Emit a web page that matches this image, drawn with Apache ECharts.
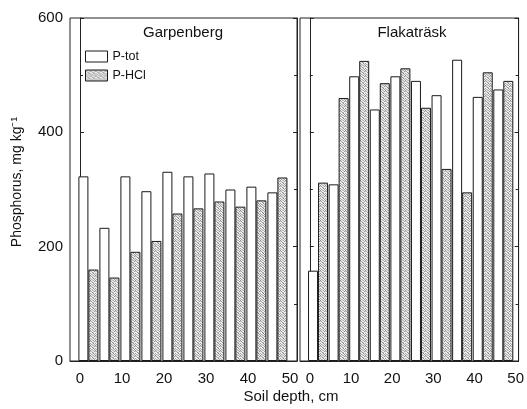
<!DOCTYPE html>
<html><head><meta charset="utf-8">
<script src="https://cdn.jsdelivr.net/npm/echarts@6/dist/echarts.min.js"></script>
<style>html,body{margin:0;padding:0;background:#fff}#c{width:527px;height:409px}</style>
</head><body><div id="c"></div>
<script>
// Data (depth = mid-position of each 5 cm layer pair)
const depths = [2, 7, 12, 17, 22, 27, 32, 37, 42, 47];
const garpPtot = [323, 233, 323, 297, 331, 323, 328, 300, 305, 295];
const garpPhcl = [160, 146, 191, 210, 258, 267, 279, 270, 281, 321];
const flakPtot = [158, 309, 498, 440, 498, 490, 465, 527, 462, 475];
const flakPhcl = [312, 460, 525, 486, 512, 443, 336, 295, 505, 490];
const xTickLabels = [0, 10, 20, 30, 40, 50];
const panelTitles = ['Garpenberg', 'Flakaträsk'];
const seriesNames = ['P-tot', 'P-HCl'];

const FONT = 'Liberation Sans, Arial, Helvetica, sans-serif';

// stipple pattern for P-HCl (irregular light dots)
const pc = document.createElement('canvas');
pc.width = 5; pc.height = 5;
const pctx = pc.getContext('2d');
pctx.fillStyle = '#eeeeee'; pctx.fillRect(0, 0, 5, 5);
const dots = [[0,0,'#8e8e8e'],[3,0,'#b2b2b2'],[1,1,'#a6a6a6'],[4,1,'#9a9a9a'],[2,2,'#909090'],[0,3,'#a0a0a0'],[3,3,'#8a8a8a'],[1,4,'#b0b0b0'],[4,4,'#a4a4a4'],[2,0,'#c8c8c8'],[0,1,'#cccccc'],[3,2,'#c4c4c4'],[2,4,'#cacaca']];
dots.forEach(d => { pctx.fillStyle = d[2]; pctx.fillRect(d[0], d[1], 1, 1); });
const stipple = {image: pc, repeat: 'repeat'};

const pair = (xs, ys) => xs.map((x, i) => [x, ys[i]]);

const chart = echarts.init(document.getElementById('c'), null, {renderer: 'canvas'});

const pxPerCm = 4.2;
const grids = [
  {left: 70, top: 18, width: 227, height: 343, x0: 80},
  {left: 300, top: 18, width: 223, height: 343, x0: 310}
];

const xAxes = grids.map((g, i) => ({
  type: 'value', gridIndex: i,
  min: (g.left - g.x0) / pxPerCm,
  max: (g.left + g.width - g.x0) / pxPerCm,
  axisLine: {show: true, lineStyle: {color: '#222', width: 1}},
  axisTick: {show: false},
  splitLine: {show: false},
  axisLabel: {customValues: xTickLabels, color: '#111', fontSize: 15, fontFamily: FONT, margin: 10}
}));

const yAxes = [];
grids.forEach((g, i) => {
  ['left', 'right'].forEach(pos => {
    yAxes.push({
      type: 'value', gridIndex: i, position: pos,
      min: 0, max: 600, interval: 200,
      axisLine: {show: true, lineStyle: {color: '#222', width: 1}},
      axisTick: {show: true, inside: true, length: 4, lineStyle: {color: '#222'}},
      minorTick: {show: true, splitNumber: 2, length: 3, lineStyle: {color: '#222'}},
      splitLine: {show: false},
      minorSplitLine: {show: false},
      axisLabel: {show: i === 0 && pos === 'left', color: '#111', fontSize: 15, fontFamily: FONT, margin: 7}
    });
  });
});

const barBase = {type: 'bar', barWidth: 10, barGap: '0%', animation: false};
const whiteStyle = {color: '#ffffff', borderColor: '#1a1a1a', borderWidth: 1};
const grayStyle = {color: stipple, borderColor: '#1a1a1a', borderWidth: 1};

const series = [
  Object.assign({}, barBase, {name: seriesNames[0], xAxisIndex: 0, yAxisIndex: 0, data: pair(depths, garpPtot), itemStyle: whiteStyle}),
  Object.assign({}, barBase, {name: seriesNames[1], xAxisIndex: 0, yAxisIndex: 0, data: pair(depths, garpPhcl), itemStyle: grayStyle}),
  Object.assign({}, barBase, {name: seriesNames[0], xAxisIndex: 1, yAxisIndex: 2, data: pair(depths, flakPtot), itemStyle: whiteStyle}),
  Object.assign({}, barBase, {name: seriesNames[1], xAxisIndex: 1, yAxisIndex: 2, data: pair(depths, flakPhcl), itemStyle: grayStyle})
];

chart.setOption({
  animation: false,
  backgroundColor: '#fff',
  grid: grids.map(g => ({left: g.left, top: g.top, width: g.width, height: g.height, show: true, borderColor: '#222', borderWidth: 1, backgroundColor: 'transparent'})),
  xAxis: xAxes,
  yAxis: yAxes,
  legend: {
    data: seriesNames, orient: 'vertical', left: 85, top: 50, padding: 0,
    icon: 'rect',
    itemWidth: 22, itemHeight: 11, itemGap: 6,
    itemStyle: {borderWidth: 1, borderColor: '#1a1a1a'},
    textStyle: {fontSize: 12.5, fontFamily: FONT, color: '#111'},
    selectedMode: false
  },
  series: series,
  graphic: [
    {type: 'text', style: {text: panelTitles[0], x: 183, y: 33, align: 'center', verticalAlign: 'middle', font: '15px ' + FONT, fill: '#111'}},
    {type: 'text', style: {text: panelTitles[1], x: 412, y: 33, align: 'center', verticalAlign: 'middle', font: '15px ' + FONT, fill: '#111'}},
    {type: 'text', style: {text: 'Soil depth, cm', x: 291, y: 397, align: 'center', verticalAlign: 'middle', font: '15px ' + FONT, fill: '#111'}},
    {type: 'text', x: 17, y: 182, rotation: Math.PI / 2, style: {text: 'Phosphorus, mg kg⁻¹', x: 0, y: 0, align: 'center', verticalAlign: 'middle', font: '14px ' + FONT, fill: '#111'}}
  ]
});
</script></body></html>
